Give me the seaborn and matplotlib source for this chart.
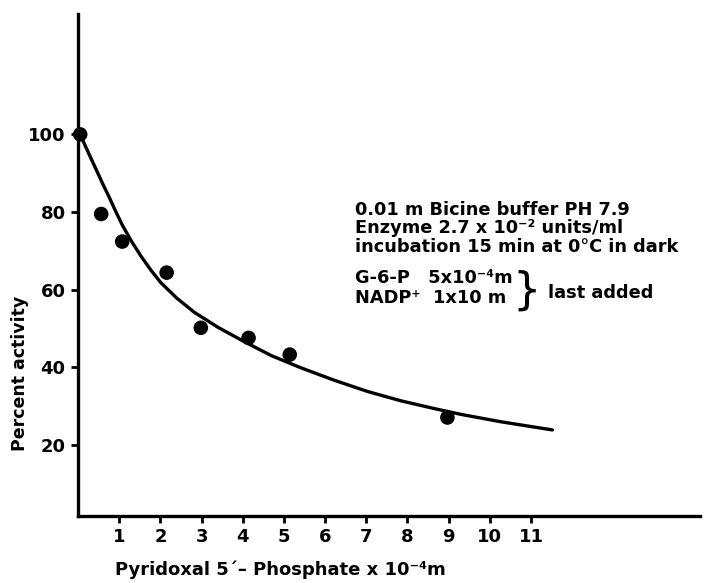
import matplotlib
matplotlib.use("Agg")
import matplotlib.pyplot as plt
import seaborn as sns
import pandas as pd

# measured points
conc = [0.05, 0.56, 1.07, 2.15, 2.98, 4.14, 5.14, 8.97]
activity = [100, 79.5, 72.4, 64.4, 50.2, 47.6, 43.3, 27.1]

# fitted curve
curve_x = [0.05, 0.15, 0.27, 0.44, 0.6, 0.76, 0.92, 1.08, 1.3, 1.53, 1.77, 2.01, 2.4,
           2.82, 3.4, 4.04, 4.7, 5.41, 6.22, 7.03, 7.84, 8.65, 9.3, 10.27, 11.52]
curve_y = [100, 97.6, 94.8, 90.9, 87.2, 83.7, 80.0, 76.5, 72.4, 68.6, 65.0, 61.8, 57.8,
           54.2, 50.3, 46.6, 43.0, 39.9, 36.7, 33.8, 31.4, 29.4, 27.9, 26.0, 23.9]

x_ticks = [1, 2, 3, 4, 5, 6, 7, 8, 9, 10, 11]
y_ticks = [20, 40, 60, 80, 100]

annot_lines = [
    "0.01 m Bicine buffer PH 7.9",
    "Enzyme 2.7 x 10\u207b\u00b2 units/ml",
    "incubation 15 min at 0\u00b0C in dark",
    "G-6-P   5x10\u207b\u2074m",
    "NADP\u207a  1x10 m",
]
annot_side = "last added"
x_label = "Pyridoxal 5\u00b4\u2013 Phosphate x 10\u207b\u2074m"
y_label = "Percent activity"

sns.set_theme(style="ticks")
plt.rcParams["font.family"] = ["DejaVu Sans"]
plt.rcParams["font.weight"] = "bold"
plt.rcParams["text.color"] = "black"
plt.rcParams["xtick.labelcolor"] = "black"
plt.rcParams["ytick.labelcolor"] = "black"

fig = plt.figure(figsize=(7.04, 5.83), dpi=100)
ax = fig.add_axes([0.111, 0.115, 0.883, 0.861])

pts = pd.DataFrame({"x": conc, "y": activity})
crv = pd.DataFrame({"x": curve_x, "y": curve_y})
sns.lineplot(data=crv, x="x", y="y", ax=ax, color="black", linewidth=2.4,
             sort=False, estimator=None)
sns.scatterplot(data=pts, x="x", y="y", ax=ax, color="black", s=110,
                edgecolor="none", zorder=5, clip_on=False)

ax.set_xlim(0, 15.1)
ax.set_ylim(1.75, 131)
ax.set_xticks(x_ticks)
ax.set_xticklabels([str(t) for t in x_ticks])
ax.set_yticks(y_ticks)
ax.set_yticklabels([str(t) for t in y_ticks])
ax.tick_params(axis="both", direction="out", length=5, width=2, color="black",
               labelcolor="black", labelsize=13, pad=4)
for lab in ax.get_xticklabels() + ax.get_yticklabels():
    lab.set_fontweight("bold")

for s in ["top", "right"]:
    ax.spines[s].set_visible(False)
for s in ["left", "bottom"]:
    ax.spines[s].set_linewidth(2.4)
    ax.spines[s].set_color("black")

ax.set_xlabel("")
ax.set_ylabel("")
fig.text(115 / 704, 1 - 570 / 583, x_label, fontsize=13, fontweight="bold",
         ha="left", va="center", color="black")
fig.text(20 / 704, 1 - 373 / 583, y_label, fontsize=12.5, fontweight="bold",
         ha="center", va="center", rotation=90, color="black")

ys = [210, 228, 247, 278, 298]
for line, yp in zip(annot_lines, ys):
    fig.text(355 / 704, 1 - yp / 583, line, fontsize=12.8, fontweight="bold",
             ha="left", va="center", color="black")
fig.text(527 / 704, 1 - 291 / 583, "}", fontsize=32, fontweight="normal",
         ha="center", va="center", color="black")
fig.text(548 / 704, 1 - 293 / 583, annot_side, fontsize=12.8, fontweight="bold",
         ha="left", va="center", color="black")

fig.savefig("out.png", dpi=100)
